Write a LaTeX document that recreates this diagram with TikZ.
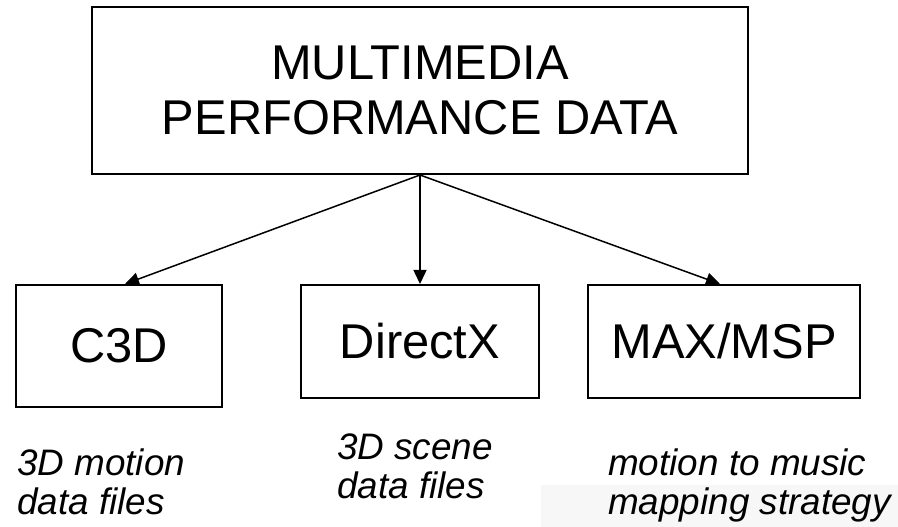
\documentclass[tikz,border=0pt]{standalone}
\usepackage{fontspec}
\setmainfont{Liberation Sans}
\usetikzlibrary{arrows.meta}
\tikzset{
	box/.style={draw, line width=2bp, inner sep=0pt, align=center},
	note/.style={inner sep=0pt, anchor=north west, align=left, font=\itshape\fontsize{37}{39}\selectfont},
	link/.style={line width=1.5bp, -{Triangle[length=14bp,width=13bp]}}
}

\begin{document}
\begin{tikzpicture}[x=1bp, y=-1bp]
		%%%%% START %%%%%
		\useasboundingbox (0, 0) rectangle (898, 527);
		\fill[black!3] (541, 485) rectangle (898, 527);
		
		\node[box, minimum width=656bp, minimum height=167bp, font=\fontsize{49}{56}\selectfont] (mpd) at (420, 90.5) {MULTIMEDIA\\PERFORMANCE DATA};
		
		\node[box, minimum width=206bp, minimum height=122bp, font=\fontsize{49}{56}\selectfont] (c3d) at (119, 346) {C3D};
		\node[box, minimum width=238bp, minimum height=113bp, font=\fontsize{49}{56}\selectfont] (dx) at (420, 341.5) {DirectX};
		\node[box, minimum width=272bp, minimum height=113bp, font=\fontsize{49}{56}\selectfont] (max) at (724, 341.5) {MAX/MSP};
		
		\draw[link] (mpd.south) -- ([xshift=6bp]c3d.north);
		\draw[link] (mpd.south) -- (dx.north);
		\draw[link] (mpd.south) -- ([xshift=-4bp]max.north);
		
		\node[note] (c3dnote) at (17, 448.5) {3D motion\\data files};
		\node[note] (dxnote) at (337, 433.5) {3D scene\\data files};
		\node[note] (maxnote) at (608, 448.5) {motion to music\\mapping strategy};
		%%%%% END %%%%%
	\end{tikzpicture}
\end{document}
